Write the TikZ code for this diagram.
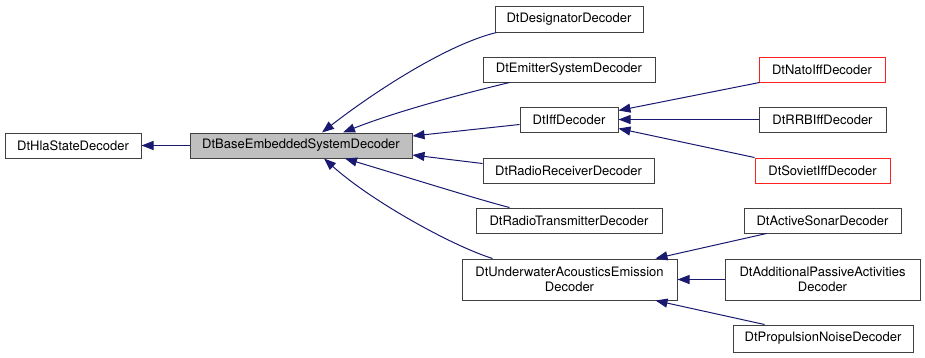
\documentclass[tikz,border=0pt]{standalone}
\usepackage{fontspec}
\setmainfont{TeX Gyre Heros}
\usetikzlibrary{arrows.meta,calc}
\definecolor{edgecol}{HTML}{191970}
\definecolor{boxborder}{HTML}{404040}
\definecolor{redborder}{HTML}{FF2020}
\definecolor{basefill}{HTML}{BFBFBF}
\begin{document}
\begin{tikzpicture}[x=1pt,y=-1pt,
  cls/.style={draw=boxborder, line width=1pt, fill=white, inner sep=0pt, align=center,
    font=\fontsize{13}{15}\selectfont},
  redcls/.style={cls, draw=redborder},
  edge/.style={draw=edgecol, line width=1pt, -{Triangle[length=12pt,width=9pt]}}]
\useasboundingbox (0,0) rectangle (925,357);
\node[cls, minimum width=136pt, minimum height=25pt] (hla) at (73,145.5) {DtHlaStateDecoder};
\node[cls, fill=basefill, minimum width=222pt, minimum height=25pt] (base) at (301,145.5) {DtBaseEmbeddedSystemDecoder};
\node[cls, minimum width=148pt, minimum height=26pt] (desig) at (569,19) {DtDesignatorDecoder};
\node[cls, minimum width=172pt, minimum height=25pt] (emit) at (569,69.5) {DtEmitterSystemDecoder};
\node[cls, minimum width=98pt, minimum height=25pt] (iff) at (569,119.5) {DtIffDecoder};
\node[cls, minimum width=171pt, minimum height=25pt] (rrecv) at (568.5,170.5) {DtRadioReceiverDecoder};
\node[cls, minimum width=186pt, minimum height=25pt] (rtrans) at (569,220.5) {DtRadioTransmitterDecoder};
\node[cls, minimum width=215pt, minimum height=41pt] (uw) at (569.5,279.5) {DtUnderwaterAcousticsEmission\\Decoder};
\node[redcls, minimum width=126pt, minimum height=25pt] (nato) at (822,69.5) {DtNatoIffDecoder};
\node[cls, minimum width=127pt, minimum height=25pt] (rrb) at (822.5,119.5) {DtRRBIffDecoder};
\node[redcls, minimum width=135pt, minimum height=25pt] (soviet) at (822.5,170.5) {DtSovietIffDecoder};
\node[cls, minimum width=157pt, minimum height=25pt] (sonar) at (822.5,220.5) {DtActiveSonarDecoder};
\node[cls, minimum width=195pt, minimum height=41pt] (addl) at (822.5,279.5) {DtAdditionalPassiveActivities\\Decoder};
\node[cls, minimum width=180pt, minimum height=27pt] (prop) at (823,338.5) {DtPropulsionNoiseDecoder};

\draw[edge] (base.west) -- (hla.east);
\draw[edge] ($(desig.south west)+(2,0)$) .. controls (445,45) and (370,95) .. ($(base.north)+(21,0)$);
\draw[edge] ($(emit.south west)+(27,0)$) .. controls (470,92) and (400,110) .. ($(base.north)+(42,0)$);
\draw[edge] ($(iff.west)+(0,5)$) -- ($(base.east)+(0,-9.5)$);
\draw[edge] ($(rrecv.west)+(0,-7)$) -- ($(base.east)+(0,9.5)$);
\draw[edge] ($(rtrans.north west)+(34,0)$) .. controls (480,200) and (400,175) .. ($(base.south)+(44,0)$);
\draw[edge] ($(uw.north west)+(31,0)$) .. controls (450,245) and (370,200) .. ($(base.south)+(23,0)$);
\draw[edge] ($(nato.south west)+(1,0)$) -- ($(iff.east)+(0,-9)$);
\draw[edge] (rrb.west) -- (iff.east);
\draw[edge] (soviet.north west) -- ($(iff.east)+(0,9)$);
\draw[edge] ($(sonar.south west)+(23,0)$) -- ($(uw.north east)+(-22,0)$);
\draw[edge] (addl.west) -- (uw.east);
\draw[edge] ($(prop.north west)+(32,0)$) -- ($(uw.south east)+(-22,0)$);
\end{tikzpicture}
\end{document}
